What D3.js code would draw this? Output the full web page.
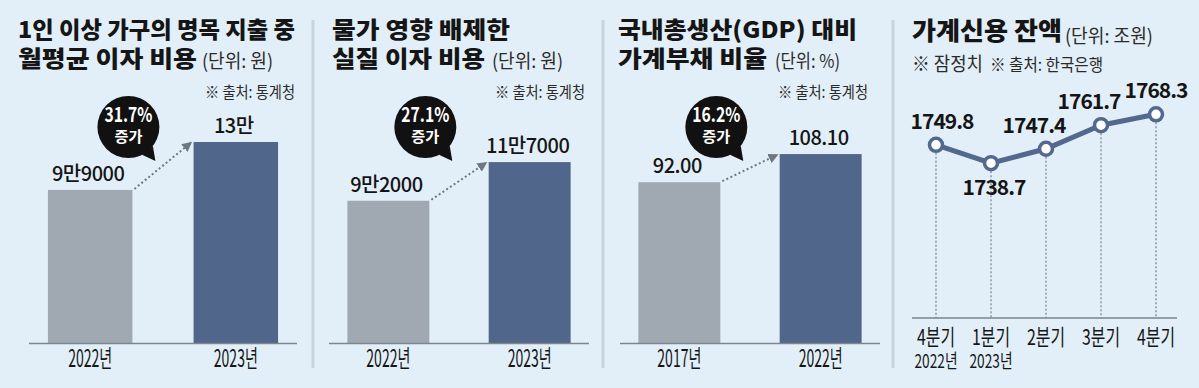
<!DOCTYPE html>
<html>
<head>
<meta charset="utf-8">
<script src="https://cdn.jsdelivr.net/npm/d3@7"></script>
<title>가계 이자 비용</title>
<style>
    body { margin: 0; background: #e2eff8; }
    svg { display: block; }
    text { font-family: "Noto Sans CJK KR", "Noto Sans", sans-serif; fill: #151515; }
</style>
</head>
<body>
<svg id="chart"></svg>
<script>
// ---- data ----
const interestYears = ['2022년', '2023년']
const interestValues = [99000, 130000]
const interestLabels = ['9만9000', '13만']
const interestChange = '31.7%'

const realYears = ['2022년', '2023년']
const realValues = [92000, 117000]
const realLabels = ['9만2000', '11만7000']
const realChange = '27.1%'

const debtYears = ['2017년', '2022년']
const debtValues = [92.00, 108.10]
const debtLabels = ['92.00', '108.10']
const debtChange = '16.2%'

const creditQuarters = ['4분기', '1분기', '2분기', '3분기', '4분기']
const creditYears = ['2022년', '2023년', '', '', '']
const creditValues = [1749.8, 1738.7, 1747.4, 1761.7, 1768.3]

// ---- layout ----
const W = 1199, H = 388
const baseY = 343
const grayBar = '#a0a9b2', blueBar = '#51668b'

const svg = d3.select('#chart').attr('width', W).attr('height', H)
svg.append('rect').attr('width', W).attr('height', H).attr('fill', '#e2eff8')

svg.append('defs').append('marker')
    .attr('id', 'arrow').attr('viewBox', '0 0 10 10')
    .attr('refX', 8).attr('refY', 5)
    .attr('markerWidth', 5).attr('markerHeight', 5)
    .attr('orient', 'auto')
    .append('path').attr('d', 'M0,0 L10,5 L0,10 z').attr('fill', '#6f7780')

// panel separators
;[313, 603, 893].forEach(x => {
    svg.append('line').attr('x1', x).attr('x2', x).attr('y1', 20).attr('y2', 368)
        .attr('stroke', '#c7d4de').attr('stroke-width', 3)
})

// text helper, w = squeezed width
function txt(g, s, x, y, o = {}) {
    let t = g.append('text').attr('x', x).attr('y', y).text(s)
        .attr('font-size', o.size || 16)
        .attr('font-weight', o.weight || 400)
        .attr('text-anchor', o.anchor || 'start')
    if (o.w) t.attr('textLength', o.w).attr('lengthAdjust', 'spacingAndGlyphs')
    if (o.fill) t.style('fill', o.fill)
    if (o.ls) t.attr('letter-spacing', o.ls)
    return t
}

function titles(t) {
    txt(svg, t.l1, t.x, 38, { size: 23, weight: 900, w: t.w1 })
    txt(svg, t.l2, t.x, 67, { size: 23, weight: 900, w: t.w2 })
    txt(svg, t.unit, t.ux, 68, { size: 19, w: t.uw, fill: '#2a2a2a' })
    txt(svg, '※ 출처: 통계청', t.sx, 98, { size: 16, w: t.sw, fill: '#2a2a2a' })
}

function barPanel(cfg) {
    const g = svg.append('g')
    const x = d3.scaleBand().domain(cfg.years).range(cfg.axis)
        .paddingInner(0.42).paddingOuter(0.13)
    const y = d3.scaleLinear().domain([0, cfg.yMax]).range([baseY, 142])

    g.selectAll('rect.bar').data(cfg.values).join('rect')
        .attr('class', 'bar')
        .attr('x', (d, i) => x(cfg.years[i]))
        .attr('width', x.bandwidth())
        .attr('y', d => y(d))
        .attr('height', d => baseY - y(d))
        .attr('fill', (d, i) => i === 0 ? grayBar : blueBar)

    g.append('line').attr('x1', cfg.axis[0]).attr('x2', cfg.axis[1])
        .attr('y1', baseY + 0.5).attr('y2', baseY + 0.5)
        .attr('stroke', '#7d858e').attr('stroke-width', 1.5)

    cfg.years.forEach((yr, i) => {
        const cx = x(yr) + x.bandwidth() / 2
        txt(g, yr, cx, 367, { size: 24, anchor: 'middle', w: 44 })
        txt(g, cfg.labels[i], cx - 2, y(cfg.values[i]) - 9,
            { size: 20, weight: 500, anchor: 'middle', ls: -0.5 })
    })

    // dotted arrow
    const x1 = x(cfg.years[0]) + x.bandwidth(), y1 = y(cfg.values[0])
    const x2 = x(cfg.years[1]) - 3, y2 = y(cfg.values[1]) + 1
    g.append('line').attr('x1', x1 + 2).attr('y1', y1 - 1).attr('x2', x2).attr('y2', y2)
        .attr('stroke', '#6f7780').attr('stroke-width', 2)
        .attr('stroke-dasharray', '2,2.5').attr('marker-end', 'url(#arrow)')

    // speech bubble
    const bx = x1 - 4, by = 127, r = 31
    const a1 = 38 * Math.PI / 180, a2 = 64 * Math.PI / 180
    g.append('path')
        .attr('d', `M${bx + r * Math.cos(a1)},${by + r * Math.sin(a1)} L${bx + 27},${by + 34} L${bx + r * Math.cos(a2)},${by + r * Math.sin(a2)} Z`)
        .attr('fill', '#111')
    g.append('circle').attr('cx', bx).attr('cy', by).attr('r', r).attr('fill', '#111')
    txt(g, cfg.change, bx, by - 5, { size: 20, weight: 700, anchor: 'middle', fill: '#fff', w: 48 })
    txt(g, '증가', bx, by + 15, { size: 15, weight: 700, anchor: 'middle', fill: '#fff', w: 28 })
}

// panel 1
titles({ l1: '1인 이상 가구의 명목 지출 중', l2: '월평균 이자 비용', x: 18, w1: 277, w2: 179,
    unit: '(단위: 원)', ux: 202, uw: 71, sx: 205, sw: 90 })
barPanel({ years: interestYears, values: interestValues, labels: interestLabels,
    change: interestChange, axis: [29, 297], yMax: 130000 })

// panel 2
titles({ l1: '물가 영향 배제한', l2: '실질 이자 비용', x: 332, w1: 178, w2: 153,
    unit: '(단위: 원)', ux: 492, uw: 71, sx: 495, sw: 90 })
barPanel({ years: realYears, values: realValues, labels: realLabels,
    change: realChange, axis: [329, 589], yMax: 130000 })

// panel 3
titles({ l1: '국내총생산(GDP) 대비', l2: '가계부채 비율', x: 618, w1: 239, w2: 149,
    unit: '(단위: %)', ux: 775, uw: 65, sx: 778, sw: 90 })
barPanel({ years: debtYears, values: debtValues, labels: debtLabels,
    change: debtChange, axis: [620, 880], yMax: 115 })

// panel 4 - line chart
txt(svg, '가계신용 잔액', 912, 40, { size: 25, weight: 900, w: 150 })
txt(svg, '(단위: 조원)', 1065, 43, { size: 19, w: 88, fill: '#2a2a2a' })
txt(svg, '※ 잠정치', 912, 71, { size: 19, w: 71, fill: '#2a2a2a' })
txt(svg, '※ 출처: 한국은행', 990, 71, { size: 17, w: 113, fill: '#2a2a2a' })

const lg = svg.append('g')
const lx = d3.scalePoint().domain(d3.range(creditValues.length)).range([936, 1156])
const ly = d3.scaleLinear().domain([1700, 1780]).range([227, 95])
const lineBase = 318
const lineColor = '#52688d'

lg.append('line').attr('x1', 912).attr('x2', 1177).attr('y1', lineBase).attr('y2', lineBase)
    .attr('stroke', '#7d858e').attr('stroke-width', 1.5)

lg.selectAll('line.drop').data(creditValues).join('line')
    .attr('class', 'drop')
    .attr('x1', (d, i) => lx(i)).attr('x2', (d, i) => lx(i))
    .attr('y1', d => ly(d) + 8).attr('y2', lineBase)
    .attr('stroke', '#7a7f86').attr('stroke-width', 1.2).attr('stroke-dasharray', '2,2')

lg.append('path').datum(creditValues)
    .attr('d', d3.line().x((d, i) => lx(i)).y(d => ly(d)))
    .attr('fill', 'none').attr('stroke', lineColor).attr('stroke-width', 5)

lg.selectAll('circle').data(creditValues).join('circle')
    .attr('cx', (d, i) => lx(i)).attr('cy', d => ly(d)).attr('r', 6.5)
    .attr('fill', '#fff').attr('stroke', lineColor).attr('stroke-width', 3.5)

const minV = d3.min(creditValues)
creditValues.forEach((v, i) => {
    const next = creditValues[i + 1]
    let dx = 0
    if (next !== undefined) dx = next > v ? -12 : 6
    let yy = ly(v) - 16
    if (v === minV) { dx = 3; yy = ly(v) + 32 }
    txt(lg, d3.format('.1f')(v), lx(i) + dx, yy, { size: 21, weight: 700, anchor: 'middle', ls: -1 })
    txt(lg, creditQuarters[i], lx(i), 345, { size: 22, anchor: 'middle', w: 38 })
    if (creditYears[i]) txt(lg, creditYears[i], lx(i), 368, { size: 19, anchor: 'middle', w: 43 })
})
</script>
</body>
</html>
